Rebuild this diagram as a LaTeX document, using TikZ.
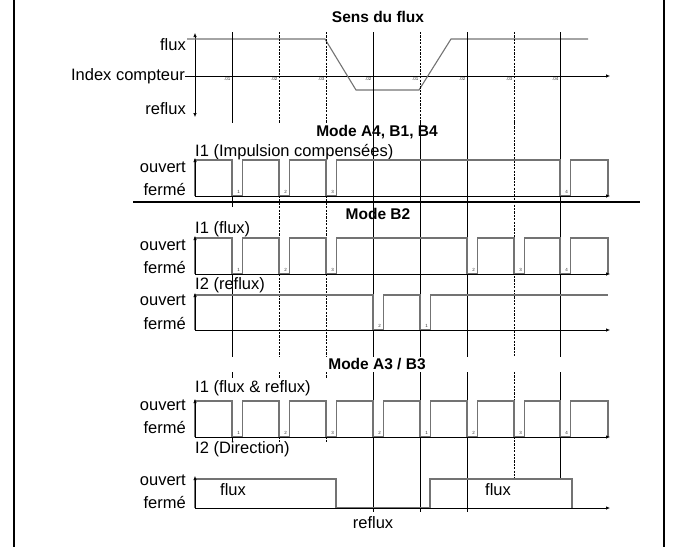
\documentclass[tikz,border=0pt]{standalone}
\usepackage{fontspec}
\setmainfont{Liberation Sans}
\usetikzlibrary{arrows.meta}
\tikzset{
  every picture/.append style={line join=miter},
  tm axis/.style={black,line width=0.6pt,-{Latex[length=4pt,width=3.4pt]}},
  tm axis both/.style={black,line width=0.6pt,{Latex[length=4pt,width=3.4pt]}-{Latex[length=4pt,width=3.4pt]}},
  tm signal/.style={black!55,line width=1.1pt},
  tm index/.style={black,line width=0.5pt},
  tm index dashed/.style={black,line width=0.5pt,dash pattern=on 2.2pt off 1.2pt},
  tm title/.style={font=\bfseries\fontsize{15.5}{18}\selectfont,inner sep=0pt},
  tm label/.style={font=\fontsize{16.5}{19}\selectfont,inner sep=0pt},
  tm tick/.style={font=\fontsize{4.5}{5}\selectfont,inner sep=0pt,text=black!80}
}

\begin{document}
\begin{tikzpicture}[x=1pt,y=-1pt]
  \useasboundingbox (0,0) rectangle (679,547);
  % frame
  \draw[line width=2.6pt] (14,0) -- (14,547);
  \draw[line width=2.6pt] (664,0) -- (664,547);

  % sens du flux
  \node[tm title] (sens) at (378,17) {Sens du flux};
  \node[tm label,anchor=east] (lflux) at (186,45) {flux};
  \node[tm label,anchor=east] (lindex) at (185,76) {Index compteur};
  \node[tm label,anchor=east] (lreflux) at (186,109) {reflux};
  \coordinate (vtop) at (195,33);
  \coordinate (vbot) at (195,117);
  \coordinate (iend) at (610,76);
  \draw[tm axis both] (vbot) -- (vtop);
  \draw[tm axis] (lindex.east) -- (iend);
  \draw[tm signal] (187,39) -- (325,39) -- (356,90) -- (419,90) -- (451,39) -- (588,39);
  \foreach \x/\s in {232/tm index,279/tm index dashed,326/tm index dashed,373/tm index,
                     420/tm index dashed,467/tm index,514/tm index dashed,560/tm index}
    \draw[\s] (\x,32) -- (\x,123);
  \foreach \x/\t [count=\i] in {232/.01,279/.02,326/.03,373/.02,420/.01,467/.02,514/.03,560/.04}
    \node[tm tick,anchor=north east] (tick\i) at (\x-1.5,77.5) {\t};

  % index lines, modes A4 and B2
  \foreach \x/\s in {373/tm index,420/tm index,467/tm index,514/tm index dashed,560/tm index}
    \draw[\s] (\x,123) -- (\x,357);
  \draw[tm index] (232,196) -- (232,207) (232,238) -- (232,357);
  \foreach \x in {279,326}
    \draw[tm index dashed] (\x,196) -- (\x,357);

  % mode A4, B1, B4
  \node[tm title] (modeA) at (377,132) {Mode A4, B1, B4};
  \node[tm label,anchor=west] (sigA) at (195,152) {I1 (Impulsion compensées)};
  \node[tm label,anchor=east] (aopen) at (186,167) {ouvert};
  \node[tm label,anchor=east] (aclosed) at (186,189) {fermé};
  \draw[tm signal] (195,196) -- (195,160)
    \foreach \t in {232,279,326,560} { -- (\t,160) -- (\t,196) -- (\t+10.5,196) -- (\t+10.5,160) }
    -- (608,160) -- (608,196);
  \draw[tm axis] (195,196) -- (610,196);
  \draw[tm axis] (195,196) -- (195,158);
  \foreach \t/\n [count=\i] in {232/1,279/2,326/3,560/4}
    \node[tm tick] (apulse\i) at (\t+6.5,192) {\n};

  \draw[line width=1.1pt] (133,202) -- (640,202);

  % mode B2
  \node[tm title] (modeB) at (378,214) {Mode B2};
  \node[tm label,anchor=west] (sigBa) at (195,229) {I1 (flux)};
  \node[tm label,anchor=east] (baopen) at (186,245) {ouvert};
  \node[tm label,anchor=east] (baclosed) at (186,267) {fermé};
  \draw[tm signal] (195,274) -- (195,238)
    \foreach \t in {232,279,326,467,514,560} { -- (\t,238) -- (\t,274) -- (\t+10.5,274) -- (\t+10.5,238) }
    -- (608,238) -- (608,274);
  \draw[tm axis] (195,274) -- (610,274);
  \draw[tm axis] (195,274) -- (195,236);
  \foreach \t/\n [count=\i] in {232/1,279/2,326/3,467/2,514/3,560/4}
    \node[tm tick] (bapulse\i) at (\t+6.5,270) {\n};

  \node[tm label,anchor=west] (sigBb) at (195,285) {I2 (reflux)};
  \node[tm label,anchor=east] (bbopen) at (186,300) {ouvert};
  \node[tm label,anchor=east] (bbclosed) at (186,323) {fermé};
  \draw[tm signal] (195,330) -- (195,295)
    \foreach \t in {373,420} { -- (\t,295) -- (\t,330) -- (\t+10.5,330) -- (\t+10.5,295) }
    -- (608,295);
  \draw[tm axis] (195,330) -- (610,330);
  \draw[tm axis] (195,330) -- (195,293);
  \foreach \t/\n [count=\i] in {373/2,420/1}
    \node[tm tick] (bbpulse\i) at (\t+6.5,326) {\n};

  % mode A3 / B3
  \node[tm title] (modeC) at (377,364) {Mode A3 / B3};
  \foreach \x/\s in {232/tm index,279/tm index dashed,326/tm index dashed}
    \draw[\s] (\x,372) -- (\x,378) (\x,437) -- (\x,442);
  \foreach \x in {373,420,467}
    \draw[tm index] (\x,372) -- (\x,512);
  \draw[tm index dashed] (514,372) -- (514,478);
  \draw[tm index] (560,372) -- (560,478);

  \node[tm label,anchor=west] (sigCa) at (195,388) {I1 (flux \& reflux)};
  \node[tm label,anchor=east] (caopen) at (186,405) {ouvert};
  \node[tm label,anchor=east] (caclosed) at (186,427) {fermé};
  \draw[tm signal] (195,437) -- (195,401)
    \foreach \t in {232,279,326,373,420,467,514,560} { -- (\t,401) -- (\t,437) -- (\t+10.5,437) -- (\t+10.5,401) }
    -- (608,401) -- (608,437);
  \draw[tm axis] (195,437) -- (610,437);
  \draw[tm axis] (195,437) -- (195,399);
  \foreach \t/\n [count=\i] in {232/1,279/2,326/3,373/2,420/1,467/2,514/3,560/4}
    \node[tm tick] (capulse\i) at (\t+6.5,433) {\n};

  \node[tm label,anchor=west] (sigCb) at (195,449) {I2 (Direction)};
  \node[tm label,anchor=east] (cbopen) at (186,480) {ouvert};
  \node[tm label,anchor=east] (cbclosed) at (186,502) {fermé};
  \draw[tm signal] (195,508) -- (195,479) -- (336,479) -- (336,508) -- (430,508)
    -- (430,479) -- (572,479) -- (572,508);
  \draw[tm axis] (195,508) -- (610,508);
  \draw[tm axis] (195,508) -- (195,476);
  \node[tm label] (dflux) at (233,490) {flux};
  \node[tm label] (dfluxb) at (498,490) {flux};
  \node[tm label] (dreflux) at (373,523) {reflux};
\end{tikzpicture}
\end{document}
